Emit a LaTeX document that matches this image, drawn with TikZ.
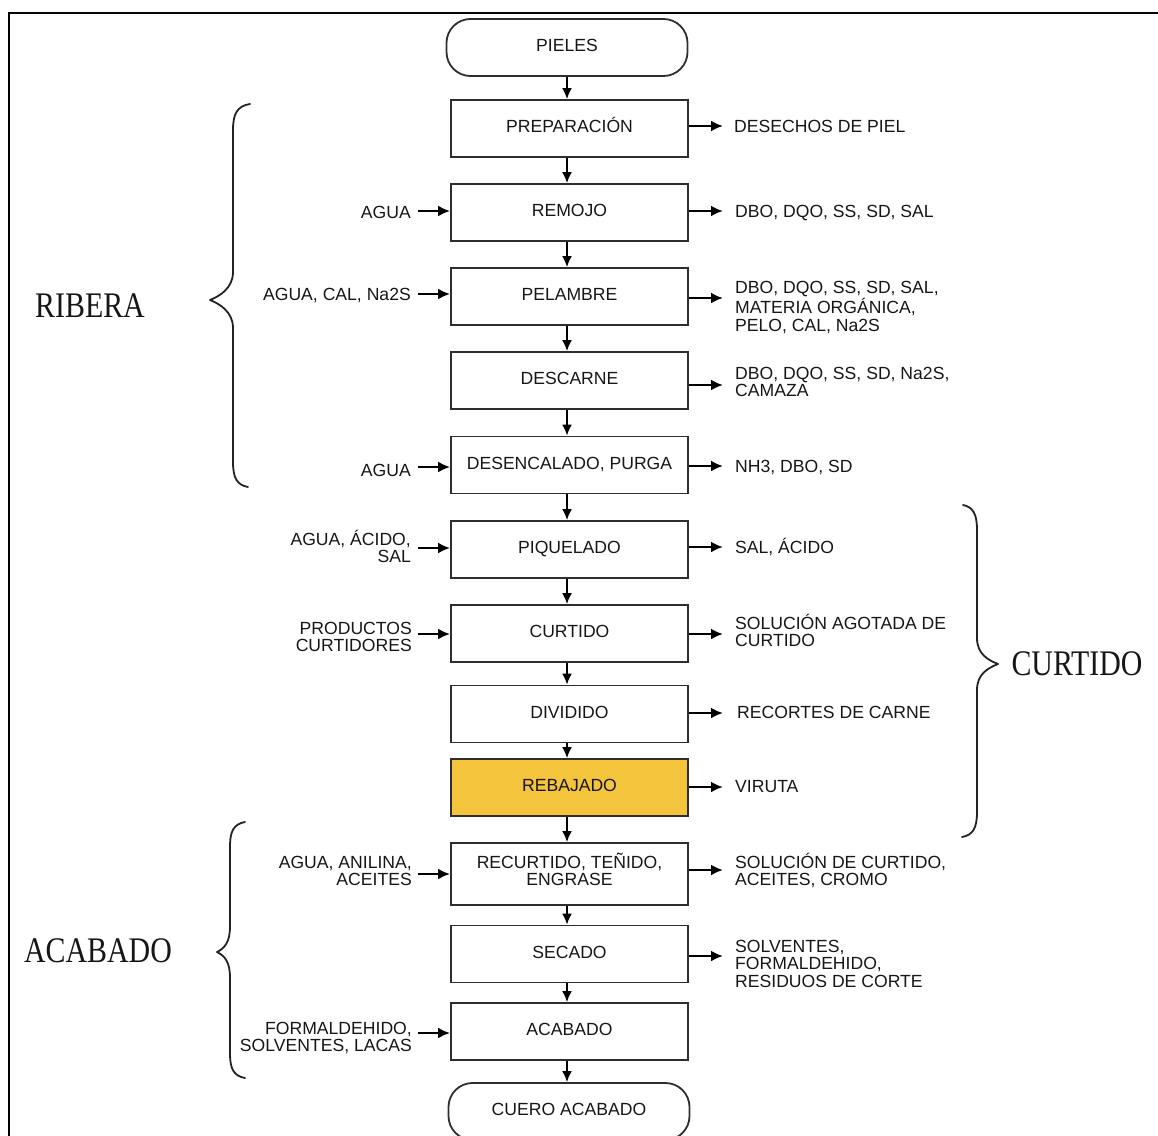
\documentclass[tikz,border=0pt]{standalone}
\usepackage{fontspec}
\usepackage{graphicx}
\usetikzlibrary{arrows.meta}
\newfontfamily\sansfam{Liberation Sans}
\newfontfamily\seriffam{Liberation Serif}
\newcommand\labfont{\sansfam\fontsize{17.6}{17.7}\selectfont}
\newcommand\bigfont{\seriffam\fontsize{36}{40}\selectfont}
\newcommand\mlines[2]{\begin{tabular}[t]{@{}#1@{}}#2\end{tabular}}
\newcommand\sidelab[1]{\scalebox{0.83}[1]{\bigfont #1}}
\definecolor{boxc}{HTML}{2E2E2E}
\definecolor{txt}{HTML}{161616}
\definecolor{gold}{HTML}{F4C43C}
\definecolor{bracec}{HTML}{222222}
\tikzset{
  procbase/.style={draw=boxc, line width=1.8pt, minimum width=237pt, minimum height=57pt, inner sep=0pt, font=\labfont, text=txt},
  proc/.style={procbase, text height=12.6pt, text depth=4pt},
  term/.style={proc, rounded corners=24pt, minimum width=241pt},
  lbl/.style={font=\labfont, inner sep=0pt, text=txt},
  outarr/.style={draw=black, line width=2.4pt, -{Latex[length=12pt,width=11pt]}},
  flowarr/.style={draw=black, line width=1.9pt, -{Latex[length=11pt,width=10pt]}},
  bracestyle/.style={draw=bracec, line width=1.8pt, line cap=round, line join=round},
  stagelab/.style={inner sep=0pt, text=txt}
}
\begin{document}
\begin{tikzpicture}[x=1pt,y=-1pt]
\useasboundingbox (0,0) rectangle (1158,1135);
% frame
\draw[line width=2.2pt] (9,1150) -- (9,13) -- (1170,13);

% process boxes
\node[term] (b0) at (567,47.5) {PIELES};
\node[proc] (b1) at (569.5,128.5) {PREPARACIÓN};
\node[proc] (b2) at (569.5,212.5) {REMOJO};
\node[proc] (b3) at (569.5,296.5) {PELAMBRE};
\node[proc] (b4) at (569.5,380.5) {DESCARNE};
\node[proc] (b5) at (569.5,465) {DESENCALADO, PURGA};
\node[proc] (b6) at (569.5,549.5) {PIQUELADO};
\node[proc] (b7) at (569.5,633.5) {CURTIDO};
\node[proc] (b8) at (569.5,714) {DIVIDIDO};
\node[proc, fill=gold] (b9) at (569.5,787.5) {REBAJADO};
\node[procbase, minimum height=62pt] (b10) at (569.5,874) {};
\node[lbl, anchor=base] (b10t) at (569.5,868) {\mlines{c}{RECURTIDO, TEÑIDO,\\ENGRASE}};
\node[proc] (b11) at (569.5,954) {SECADO};
\node[proc] (b12) at (569.5,1031.5) {ACABADO};
\node[term] (b13) at (569,1111.5) {CUERO ACABADO};

% flow arrows
\foreach \a/\b in {b0/b1,b1/b2,b2/b3,b3/b4,b4/b5,b5/b6,b6/b7,b7/b8,b8/b9,b9/b10,b10/b11,b11/b12,b12/b13}
  \draw[flowarr] (\a.south -| 567,0) -- (\b.north -| 567,0);

% outputs (right)
\node[lbl, anchor=base west] (r1) at (734,132) {DESECHOS DE PIEL};
\node[lbl, anchor=base west] (r2) at (735,217) {DBO, DQO, SS, SD, SAL};
\node[lbl, anchor=base west] (r3) at (735,293) {\mlines{l}{DBO, DQO, SS, SD, SAL,\\MATERIA ORGÁNICA,\\PELO, CAL, Na2S}};
\node[lbl, anchor=base west] (r4) at (735,379) {\mlines{l}{DBO, DQO, SS, SD, Na2S,\\CAMAZA}};
\node[lbl, anchor=base west] (r5) at (735,472) {NH3, DBO, SD};
\node[lbl, anchor=base west] (r6) at (735,553) {SAL, ÁCIDO};
\node[lbl, anchor=base west] (r7) at (735,629) {\mlines{l}{SOLUCIÓN AGOTADA DE\\CURTIDO}};
\node[lbl, anchor=base west] (r8) at (737,718) {RECORTES DE CARNE};
\node[lbl, anchor=base west] (r9) at (735,792) {VIRUTA};
\node[lbl, anchor=base west] (r10) at (735,868) {\mlines{l}{SOLUCIÓN DE CURTIDO,\\ACEITES, CROMO}};
\node[lbl, anchor=base west] (r11) at (735,952) {\mlines{l}{SOLVENTES,\\FORMALDEHIDO,\\RESIDUOS DE CORTE}};

\foreach \b/\y in {b1/126,b2/211,b3/298,b4/385,b5/466,b6/547,b7/634,b8/713,b9/787,b10/870,b11/956}
  \draw[outarr] (\b.east |- 0,\y) -- (723,\y);

% inputs (left)
\node[lbl, anchor=base east] (l2) at (411,218) {AGUA};
\node[lbl, anchor=base east] (l3) at (411,300) {AGUA, CAL, Na2S};
\node[lbl, anchor=base east] (l5) at (411,476) {AGUA};
\node[lbl, anchor=base east] (l6) at (411,545) {\mlines{r}{AGUA, ÁCIDO,\\SAL}};
\node[lbl, anchor=base east] (l7) at (412,634) {\mlines{r}{PRODUCTOS\\CURTIDORES}};
\node[lbl, anchor=base east] (l10) at (412,868) {\mlines{r}{AGUA, ANILINA,\\ACEITES}};
\node[lbl, anchor=base east] (l12) at (412,1034) {\mlines{r}{FORMALDEHIDO,\\SOLVENTES, LACAS}};

\foreach \b/\y in {b2/211,b3/294,b5/467,b6/548,b7/634,b10/874,b12/1033}
  \draw[outarr] (418,\y) -- (\b.west |- 0,\y);

% braces
% RIBERA (left brace)
\draw[bracestyle] (250,104) .. controls (237,106) and (233,114) .. (233,130)
  -- (233,272) .. controls (233,288) and (220,296) .. (210,300)
  .. controls (220,304) and (233,312) .. (233,328)
  -- (233,462) .. controls (233,478) and (237,485) .. (248,487);
% CURTIDO (right brace)
\draw[bracestyle] (963,505) .. controls (973,507) and (977,514) .. (977,530)
  -- (977,638) .. controls (977,654) and (988,660) .. (998,664)
  .. controls (988,668) and (977,674) .. (977,690)
  -- (977,812) .. controls (977,828) and (973,835) .. (962,837);
% ACABADO (left brace)
\draw[bracestyle] (245,822) .. controls (234,824) and (230,831) .. (230,846)
  -- (230,926) .. controls (230,942) and (225,948) .. (217,952)
  .. controls (225,956) and (230,962) .. (230,978)
  -- (230,1054) .. controls (230,1069) and (234,1076) .. (245,1078);

\node[stagelab] (s1) at (90,306) {\sidelab{RIBERA}};
\node[stagelab] (s2) at (1077,664) {\sidelab{CURTIDO}};
\node[stagelab] (s3) at (98,951) {\sidelab{ACABADO}};
\end{tikzpicture}
\end{document}
